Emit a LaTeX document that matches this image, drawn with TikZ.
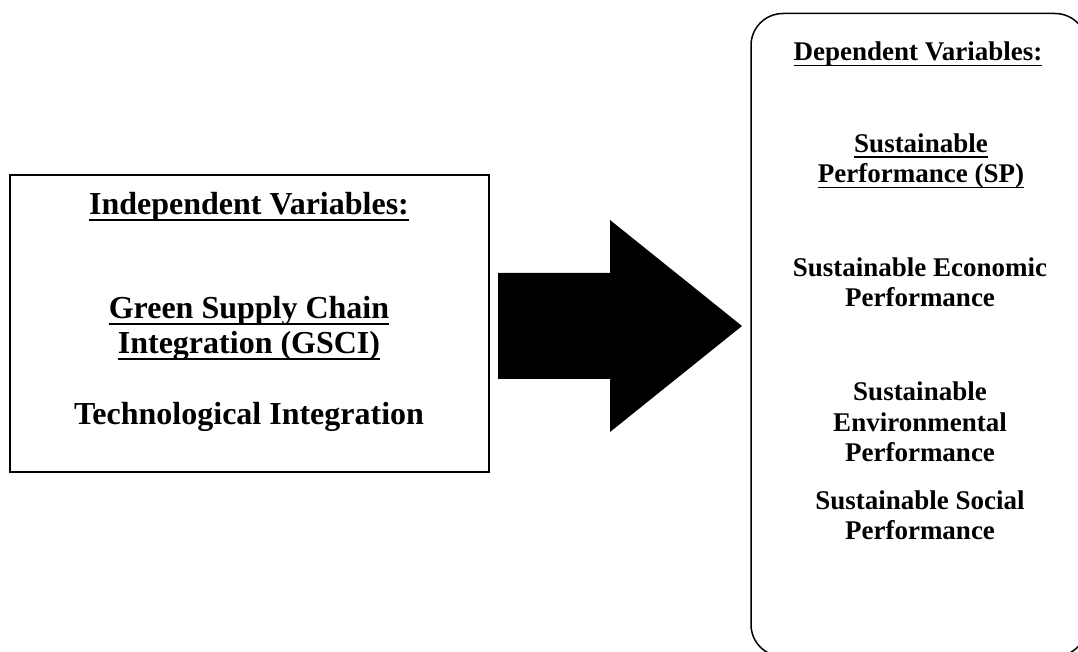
\documentclass[tikz,border=0pt]{standalone}
\usepackage{fontspec}
\setmainfont{Liberation Serif}
\usetikzlibrary{positioning}

% underline that cuts through descenders, as in the original
\newcommand{\ulb}[1]{\sbox0{#1}\rlap{\rule[-0.19em]{\wd0}{0.06em}}\usebox0}

\begin{document}
\begin{tikzpicture}[x=0.5pt,y=-0.5pt,
  vbox/.style={draw,line width=1pt,minimum width=239.5pt,minimum height=148.75pt},
  dbox/.style={draw,line width=0.75pt,rounded corners=16pt,
    minimum width=168pt,minimum height=321.5pt},
  ltxt/.style={align=center,anchor=base,inner sep=0pt,
    font=\fontsize{16}{17.5}\selectfont\bfseries},
  rtxt/.style={align=center,anchor=base,inner sep=0pt,
    font=\fontsize{13.5}{15.25}\selectfont\bfseries}]
\useasboundingbox (0,0) rectangle (1078,652);
\clip (0,0) rectangle (1078,652);
\node[vbox] (indep) at (249.5,323.75) {};
\node[dbox] (dep) at (919,335) {};
% base anchor sits on the last line
\node[ltxt] (ivh) at (249,215) {\ulb{Independent Variables:}};
\node[ltxt] (gsci) at (249,354) {\ulb{Green Supply Chain}\\ \ulb{Integration (GSCI)}};
\node[ltxt] (ti) at (249,425) {Technological Integration};
\node[rtxt] (dvh) at (918,61) {\ulb{Dependent Variables:}};
\node[rtxt] (sp) at (921,183) {\ulb{Sustainable}\\ \ulb{Performance (SP)}};
\node[rtxt] (sep) at (920,307) {Sustainable Economic\\ Performance};
\node[rtxt] (senv) at (920,462) {Sustainable\\ Environmental\\ Performance};
\node[rtxt] (ssp) at (920,540) {Sustainable Social\\ Performance};
% block arrow between the two boxes
\fill (498,273) -- (610,273) -- (610,220) -- (742,326) -- (610,432)
  -- (610,379) -- (498,379) -- cycle;
\end{tikzpicture}
\end{document}
